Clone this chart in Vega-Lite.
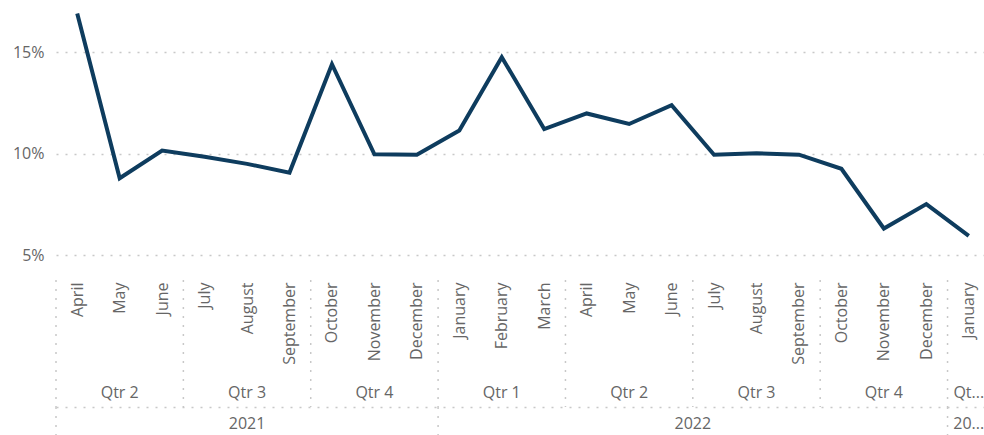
{
  "$schema": "https://vega.github.io/schema/vega-lite/v6.json",
  "padding": {"left": 12, "top": 0, "right": 0, "bottom": 0},
  "bounds": "flush",
  "spacing": 15,
  "config": {
    "font": "Open Sans",
    "view": {"stroke": null},
    "axis": {"labelFont": "Open Sans", "labelFontSize": 16, "labelColor": "#666666"},
    "text": {"font": "Open Sans", "fontSize": 16, "color": "#666666"}
  },
  "datasets": {
    "months": [
      {"key": "April 2021", "year": 2021, "quarter": "Qtr 2", "i": 0, "rate": 0.1690},
      {"key": "May 2021", "year": 2021, "quarter": "Qtr 2", "i": 1, "rate": 0.0879},
      {"key": "June 2021", "year": 2021, "quarter": "Qtr 2", "i": 2, "rate": 0.1015},
      {"key": "July 2021", "year": 2021, "quarter": "Qtr 3", "i": 3, "rate": 0.0985},
      {"key": "August 2021", "year": 2021, "quarter": "Qtr 3", "i": 4, "rate": 0.0950},
      {"key": "September 2021", "year": 2021, "quarter": "Qtr 3", "i": 5, "rate": 0.0907},
      {"key": "October 2021", "year": 2021, "quarter": "Qtr 4", "i": 6, "rate": 0.1440},
      {"key": "November 2021", "year": 2021, "quarter": "Qtr 4", "i": 7, "rate": 0.0997},
      {"key": "December 2021", "year": 2021, "quarter": "Qtr 4", "i": 8, "rate": 0.0995},
      {"key": "January 2022", "year": 2022, "quarter": "Qtr 1", "i": 9, "rate": 0.1114},
      {"key": "February 2022", "year": 2022, "quarter": "Qtr 1", "i": 10, "rate": 0.1475},
      {"key": "March 2022", "year": 2022, "quarter": "Qtr 1", "i": 11, "rate": 0.1121},
      {"key": "April 2022", "year": 2022, "quarter": "Qtr 2", "i": 12, "rate": 0.1198},
      {"key": "May 2022", "year": 2022, "quarter": "Qtr 2", "i": 13, "rate": 0.1146},
      {"key": "June 2022", "year": 2022, "quarter": "Qtr 2", "i": 14, "rate": 0.1239},
      {"key": "July 2022", "year": 2022, "quarter": "Qtr 3", "i": 15, "rate": 0.0995},
      {"key": "August 2022", "year": 2022, "quarter": "Qtr 3", "i": 16, "rate": 0.1002},
      {"key": "September 2022", "year": 2022, "quarter": "Qtr 3", "i": 17, "rate": 0.0995},
      {"key": "October 2022", "year": 2022, "quarter": "Qtr 4", "i": 18, "rate": 0.0926},
      {"key": "November 2022", "year": 2022, "quarter": "Qtr 4", "i": 19, "rate": 0.0632},
      {"key": "December 2022", "year": 2022, "quarter": "Qtr 4", "i": 20, "rate": 0.0752},
      {"key": "January 2023", "year": 2023, "quarter": "Qtr 1", "i": 21, "rate": 0.0596}
    ]
  },
  "vconcat": [
    {
      "width": 934,
      "height": 265,
      "data": {"name": "months"},
      "mark": {"type": "line", "color": "#0e3c5e", "strokeWidth": 4},
      "encoding": {
        "x": {
          "field": "key", "type": "ordinal", "sort": null,
          "axis": {"title": null, "labelAngle": -90, "labelAlign": "right", "labelBaseline": "middle", "ticks": false, "domain": false, "grid": false, "labelPadding": 17, "labelExpr": "split(datum.label, ' ')[0]"}
        },
        "y": {
          "field": "rate", "type": "quantitative",
          "scale": {"domain": [0.04525, 0.1756], "nice": false, "zero": false},
          "axis": {"title": null, "values": [0.05, 0.1, 0.15], "format": ".0%", "domain": false, "ticks": false, "labelPadding": 12, "gridDash": [2, 7], "gridColor": "#c8c8c8", "gridWidth": 1.5}
        }
      }
    },
    {
      "spacing": 0,
      "bounds": "flush",
      "vconcat": [
        {
          "width": 934,
          "height": 99,
          "data": {"name": "months"},
          "transform": [{"window": [{"op": "row_number", "as": "qr"}], "groupby": ["year", "quarter"], "sort": [{"field": "i"}]}],
          "mark": {"type": "rule", "strokeDash": [2, 7], "color": "#c8c8c8", "strokeWidth": 1.5},
          "encoding": {
            "x": {"field": "key", "type": "ordinal", "sort": null, "bandPosition": 0, "scale": {"type": "band", "paddingInner": 0, "paddingOuter": 0}, "axis": null},
            "strokeOpacity": {"condition": {"test": "datum.qr == 1", "value": 1}, "value": 0}
          }
        },
        {
          "width": 934,
          "height": 28,
          "data": {"name": "months"},
          "layer": [
            {
              "transform": [{"window": [{"op": "row_number", "as": "qr"}], "groupby": ["year", "quarter"], "sort": [{"field": "i"}]}],
              "mark": {"type": "rule", "strokeDash": [2, 7], "color": "#c8c8c8", "strokeWidth": 1.5},
              "encoding": {
                "x": {"field": "key", "type": "ordinal", "sort": null, "bandPosition": 0, "scale": {"type": "band", "paddingInner": 0, "paddingOuter": 0}, "axis": null},
                "strokeOpacity": {"condition": {"test": "datum.qr == 1", "value": 1}, "value": 0}
              }
            },
            {
              "mark": {"type": "text", "fontSize": 16, "color": "#666666", "ellipsis": "...", "limit": {"expr": "datum.year == 2023 ? 33 : 0"}},
              "encoding": {
                "x": {"aggregate": "mean", "field": "i", "type": "quantitative", "scale": {"domain": [-0.5, 21.5], "nice": false, "zero": false}, "axis": null},
                "text": {"field": "quarter", "type": "nominal"},
                "detail": {"field": "year", "type": "nominal"}
              }
            }
          ],
          "resolve": {"scale": {"x": "independent"}}
        },
        {
          "width": 934,
          "height": 34,
          "data": {"name": "months"},
          "layer": [
            {
              "transform": [{"window": [{"op": "row_number", "as": "yr"}], "groupby": ["year"], "sort": [{"field": "i"}]}],
              "mark": {"type": "rule", "strokeDash": [2, 7], "color": "#c8c8c8", "strokeWidth": 1.5},
              "encoding": {
                "x": {"field": "key", "type": "ordinal", "sort": null, "bandPosition": 0, "scale": {"type": "band", "paddingInner": 0, "paddingOuter": 0},
                  "axis": {"orient": "top", "title": null, "labels": false, "ticks": false, "grid": false, "domain": true, "domainDash": [2, 7], "domainColor": "#c8c8c8", "domainWidth": 1.5}},
                "strokeOpacity": {"condition": {"test": "datum.yr == 1", "value": 1}, "value": 0}
              }
            },
            {
              "mark": {"type": "text", "fontSize": 16, "color": "#666666", "ellipsis": "...", "limit": {"expr": "datum.year == 2023 ? 33 : 0"}},
              "encoding": {
                "x": {"aggregate": "mean", "field": "i", "type": "quantitative", "scale": {"domain": [-0.5, 21.5], "nice": false, "zero": false}, "axis": null},
                "text": {"field": "year", "type": "nominal"}
              }
            }
          ],
          "resolve": {"scale": {"x": "independent"}}
        }
      ]
    }
  ]
}
